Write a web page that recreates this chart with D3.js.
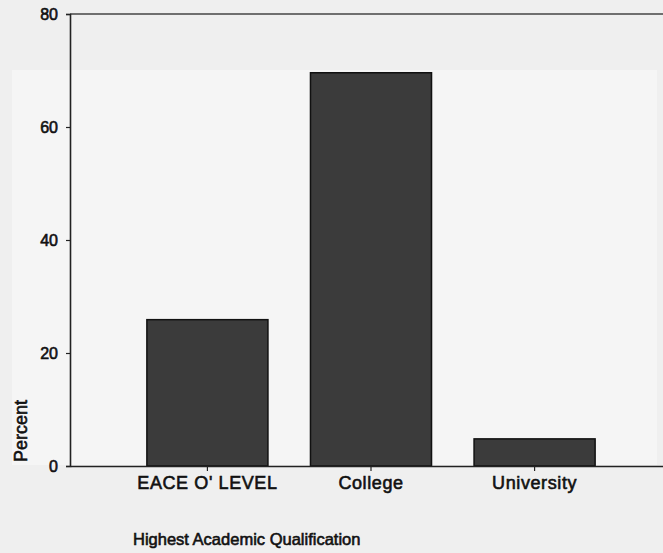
<!DOCTYPE html>
<html>
<head>
<meta charset="utf-8">
<script src="https://cdn.jsdelivr.net/npm/d3@7"></script>
<style>
  html, body { margin: 0; padding: 0; background: #f1f1f1; }
  svg { display: block; }
  text { font-family: Arial, "Liberation Sans", sans-serif; fill: #111; }
</style>
</head>
<body>
<script>
const categories = ["EACE O' LEVEL", "College", "University"];
const percents = [25.9, 69.6, 4.8];
const yTicks = [0, 20, 40, 60, 80];
const xTitle = "Highest Academic Qualification";
const yTitle = "Percent";

const W = 663, H = 553;
const svg = d3.select("body").append("svg").attr("width", W).attr("height", H);

svg.append("rect").attr("width", W).attr("height", H).attr("fill", "#efefef");
svg.append("rect").attr("x", 12).attr("y", 70).attr("width", 645).attr("height", 395).attr("fill", "#f5f5f5");

const y = d3.scaleLinear().domain([0, 80]).range([466, 14]);
const x = d3.scaleBand().domain(categories).range([70, 672]).paddingInner(0.26).paddingOuter(0.47);

// bars
svg.selectAll("rect.bar").data(categories).enter().append("rect")
  .attr("class", "bar")
  .attr("x", d => x(d))
  .attr("width", x.bandwidth())
  .attr("y", (d, i) => y(percents[i]))
  .attr("height", (d, i) => y(0) - y(percents[i]))
  .attr("fill", "#3b3b3b")
  .attr("stroke", "#111")
  .attr("stroke-width", 1.5);

// top frame line
svg.append("line").attr("x1", 70).attr("x2", W).attr("y1", y(80)).attr("y2", y(80))
  .attr("stroke", "#444").attr("stroke-width", 1.5);

const txtStroke = 0.6;

// y axis
const yAxis = svg.append("g").attr("transform", "translate(70,0)")
  .call(d3.axisLeft(y).tickValues(yTicks).tickSize(4).tickPadding(8));
yAxis.select(".domain").attr("stroke", "#222").attr("stroke-width", 1.6);
yAxis.selectAll(".tick line").attr("stroke", "#222").attr("stroke-width", 1.2);
yAxis.selectAll(".tick text").attr("font-size", 16).attr("fill", "#111")
  .attr("stroke", "#111").attr("stroke-width", txtStroke)
  .attr("font-family", "Arial, 'Liberation Sans', sans-serif");

// x axis
const xAxis = svg.append("g").attr("transform", "translate(0,466)")
  .call(d3.axisBottom(x).tickSize(5).tickPadding(5).tickSizeOuter(0));
xAxis.select(".domain").attr("stroke", "#222").attr("stroke-width", 1.6);
xAxis.selectAll(".tick line").attr("stroke", "#222").attr("stroke-width", 1.2);
xAxis.selectAll(".tick text").attr("font-size", 18).attr("fill", "#111")
  .attr("letter-spacing", 0.6)
  .attr("stroke", "#111").attr("stroke-width", txtStroke)
  .attr("font-family", "Arial, 'Liberation Sans', sans-serif");

// y title
svg.append("text").attr("transform", "translate(27,431) rotate(-90)")
  .attr("text-anchor", "middle").attr("font-size", 18)
  .attr("stroke", "#111").attr("stroke-width", txtStroke)
  .text(yTitle);

// x title
svg.append("text").attr("x", 133).attr("y", 545)
  .attr("font-size", 16.5)
  .attr("stroke", "#111").attr("stroke-width", txtStroke)
  .text(xTitle);
</script>
</body>
</html>
